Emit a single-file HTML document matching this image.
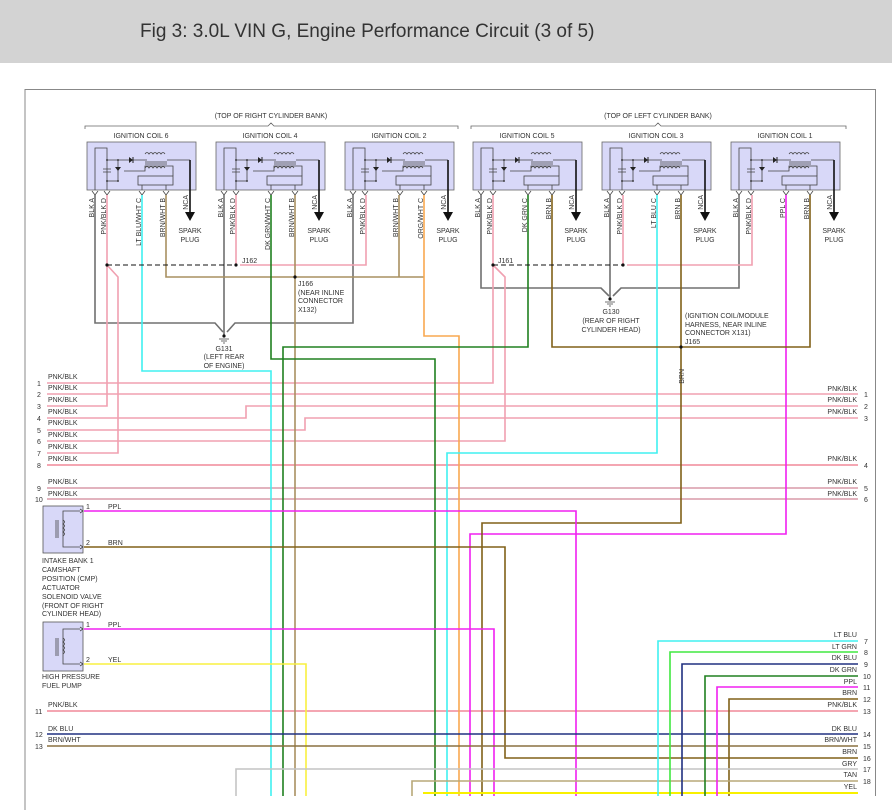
<!DOCTYPE html>
<html><head><meta charset="utf-8"><style>
html,body{margin:0;padding:0;background:#fff;}
svg{display:block;font-family:"Liberation Sans",sans-serif;}
.t{font-size:7px;fill:#333;}
.tc{font-size:7px;fill:#333;text-anchor:middle;}
.tr{font-size:7px;fill:#333;text-anchor:end;}
</style></head><body>
<svg width="892" height="810" viewBox="0 0 892 810" xmlns="http://www.w3.org/2000/svg">
<defs>
<g id="coil">
<rect x="0" y="0" width="109" height="48" fill="#d8d8f8" stroke="#666" stroke-width="0.8"/>
<g fill="none" stroke="#444" stroke-width="0.8">
<path d="M8,48 V6 H20 V48"/>
<path d="M20,18 H60"/>
<path d="M80,18 H103"/>
<path d="M31,18 V39"/>
<path d="M20,39 H31"/>
<path d="M16,27 H24 M16,30 H24"/>
<path d="M37,29 H58 V24 H86 V34"/>
<rect x="51" y="34" width="35" height="9"/>
<path d="M55,43 V48 M79,43 V48"/>
<path d="M58,12 q2,-3 4,0 q2,-3 4,0 q2,-3 4,0 q2,-3 4,0 q2,-3 4,0"/>
<path d="M58,20 h22 M58,22 h22"/>
<path d="M58,26 q2,-3 4,0 q2,-3 4,0 q2,-3 4,0 q2,-3 4,0 q2,-3 4,0"/>
<path d="M5,49 l3,4 l3,-4 M17,49 l3,4 l3,-4 M52,49 l3,4 l3,-4 M76,49 l3,4 l3,-4"/>
</g>
<polygon points="42,15 42,21 46,18" fill="#222"/>
<path d="M46,15 V21" stroke="#222"/>
<polygon points="28,25 34,25 31,29" fill="#222"/>
<circle cx="20" cy="18" r="0.9" fill="#222"/><circle cx="31" cy="18" r="0.9" fill="#222"/>
<circle cx="20" cy="39" r="0.9" fill="#222"/><circle cx="31" cy="39" r="0.9" fill="#222"/>
<path d="M103,18 V74" stroke="#111" stroke-width="1.6"/>
<polygon points="98,70 108,70 103,79" fill="#111"/>
<text class="tc" x="103" y="91">SPARK</text>
<text class="tc" x="103" y="100">PLUG</text>
<text class="tr" transform="translate(101,53) rotate(-90)">NCA</text>
</g>
</defs>
<rect x="0" y="0" width="892" height="63" fill="#d3d3d3"/>
<text x="140" y="37" style="font-size:19px;fill:#333">Fig 3: 3.0L VIN G, Engine Performance Circuit (3 of 5)</text>
<path d="M25,810 V89.5 H875.5 V796" fill="none" stroke="#888" stroke-width="1"/>

<text class="tc" x="271" y="118">(TOP OF RIGHT CYLINDER BANK)</text>
<text class="tc" x="658" y="118">(TOP OF LEFT CYLINDER BANK)</text>
<path d="M85,129 V126 H268 L271,123 L274,126 H458 V129" fill="none" stroke="#666" stroke-width="0.8"/>
<path d="M471,129 V126 H655 L658,123 L661,126 H846 V129" fill="none" stroke="#666" stroke-width="0.8"/>
<text class="tc" x="141" y="138">IGNITION COIL 6</text>
<text class="tc" x="270" y="138">IGNITION COIL 4</text>
<text class="tc" x="399" y="138">IGNITION COIL 2</text>
<text class="tc" x="527" y="138">IGNITION COIL 5</text>
<text class="tc" x="656" y="138">IGNITION COIL 3</text>
<text class="tc" x="785" y="138">IGNITION COIL 1</text>

<use href="#coil" transform="translate(87,142)"/>
<use href="#coil" transform="translate(216,142)"/>
<use href="#coil" transform="translate(345,142)"/>
<use href="#coil" transform="translate(473,142)"/>
<use href="#coil" transform="translate(602,142)"/>
<use href="#coil" transform="translate(731,142)"/>

<g fill="none" stroke-width="1.6">
<g stroke="#707070">
<path d="M95,195 V323 H215 L223,332"/>
<path d="M224,195 V336"/>
<path d="M353,195 V323 H235 L227,332"/>
<path d="M481,195 V288 H601 L609,296"/>
<path d="M610,195 V299"/>
<path d="M739,195 V288 H621 L613,296"/>
</g>
<g stroke="#f0a0b0">
<path d="M107,195 V265 V406 H47"/>
<path d="M107,265 L118,277 V453 H47"/>
<path d="M236,195 V265"/>
<path d="M366,195 V265 H240"/>
<path d="M493,195 V383 H47"/>
<path d="M493,265 L505,277 V441 H47"/>
<path d="M623,195 V265"/>
<path d="M752,195 V265 H627"/>
<path d="M47,394 H858"/>
<path d="M47,418 H246 V406 H858"/>
<path d="M47,430 H305 V418 H858"/>
</g>
<g stroke="#f08898">
<path d="M47,465 H858"/>
<path d="M47,711 H858"/>
</g>
<g stroke="#d89aa8">
<path d="M47,488 H858"/>
<path d="M47,499 H858"/>
</g>
<g stroke="#a89060">
<path d="M166,195 V277 H424"/>
<path d="M399,195 V277"/>
<path d="M295,195 V796"/>
</g>
<path d="M142,195 V371 H271 V796" stroke="#40f0f0"/>
<path d="M271,195 V359 H435 V796" stroke="#208020"/>
<path d="M424,195 V336 H459 V796" stroke="#f8a850"/>
<path d="M528,195 V347 H283 V796" stroke="#208020"/>
<path d="M657,195 V453 H447 V796" stroke="#40f0f0"/>
<path d="M786,195 V534 H470 V796" stroke="#f020f0"/>
<g stroke="#806018">
<path d="M552,195 V347 H810 V195"/>
<path d="M681,195 V523 H482 V796"/>
<path d="M84,547 H505 V758 H858"/>
<path d="M729,796 V699 H858"/>
</g>
<path d="M84,511 H576 V796" stroke="#f020f0"/>
<path d="M84,629 H494 V796" stroke="#f020f0"/>
<path d="M84,664 H306 V796" stroke="#f8f040"/>
<path d="M47,734 H858" stroke="#203080"/>
<path d="M47,746 H858" stroke="#8a7040"/>
<path d="M236,796 V769 H858" stroke="#c4c4c4"/>
<path d="M412,796 V781 H858" stroke="#b8a878"/>
<path d="M423,793 H858" stroke="#f8f000" stroke-width="2"/>
<path d="M658,796 V641 H858" stroke="#40f0f0"/>
<path d="M670,796 V652 H858" stroke="#40e840"/>
<path d="M682,796 V664 H858" stroke="#203080"/>
<path d="M705,796 V676 H858" stroke="#208020"/>
<path d="M717,796 V687 H858" stroke="#f020f0"/>
</g>
<path d="M107,265 H236" stroke="#111" stroke-dasharray="5,3" stroke-width="1"/>
<path d="M493,265 H623" stroke="#111" stroke-dasharray="5,3" stroke-width="1"/>
<g fill="#111">
<circle cx="107" cy="265" r="1.6"/><circle cx="236" cy="265" r="1.6"/>
<circle cx="493" cy="265" r="1.6"/><circle cx="623" cy="265" r="1.6"/>
<circle cx="295" cy="277" r="1.6"/><circle cx="681" cy="347" r="1.6"/>
<circle cx="224" cy="336" r="1.6"/><circle cx="610" cy="299" r="1.6"/>
</g>
<path d="M219,339 H229 M221,341 H227 M223,343 H225 M605,302 H615 M607,304 H613 M609,306 H611" stroke="#444" stroke-width="0.8"/>
<text class="t" x="242" y="263">J162</text>
<text class="t" x="498" y="263">J161</text>
<text class="t" x="298" y="286">J166</text>
<text class="t" x="298" y="295">(NEAR INLINE</text>
<text class="t" x="298" y="303">CONNECTOR</text>
<text class="t" x="298" y="312">X132)</text>
<text class="tc" x="224" y="351">G131</text>
<text class="tc" x="224" y="359">(LEFT REAR</text>
<text class="tc" x="224" y="368">OF ENGINE)</text>
<text class="tc" x="611" y="314">G130</text>
<text class="tc" x="611" y="323">(REAR OF RIGHT</text>
<text class="tc" x="611" y="332">CYLINDER HEAD)</text>
<text class="t" x="685" y="318">(IGNITION COIL/MODULE</text>
<text class="t" x="685" y="327">HARNESS, NEAR INLINE</text>
<text class="t" x="685" y="335">CONNECTOR X131)</text>
<text class="t" x="685" y="344">J165</text>
<text class="tr" transform="translate(684,369) rotate(-90)">BRN</text>

<g>
<text class="tr" transform="translate(94,198) rotate(-90)">BLK  A</text>
<text class="tr" transform="translate(106,198) rotate(-90)">PNK/BLK  D</text>
<text class="tr" transform="translate(141,198) rotate(-90)">LT BLU/WHT  C</text>
<text class="tr" transform="translate(165,198) rotate(-90)">BRN/WHT  B</text>
<text class="tr" transform="translate(223,198) rotate(-90)">BLK  A</text>
<text class="tr" transform="translate(235,198) rotate(-90)">PNK/BLK  D</text>
<text class="tr" transform="translate(270,198) rotate(-90)">DK GRN/WHT  C</text>
<text class="tr" transform="translate(294,198) rotate(-90)">BRN/WHT  B</text>
<text class="tr" transform="translate(352,198) rotate(-90)">BLK  A</text>
<text class="tr" transform="translate(365,198) rotate(-90)">PNK/BLK  D</text>
<text class="tr" transform="translate(398,198) rotate(-90)">BRN/WHT  B</text>
<text class="tr" transform="translate(423,198) rotate(-90)">ORG/WHT  C</text>
<text class="tr" transform="translate(480,198) rotate(-90)">BLK  A</text>
<text class="tr" transform="translate(492,198) rotate(-90)">PNK/BLK  D</text>
<text class="tr" transform="translate(527,198) rotate(-90)">DK GRN  C</text>
<text class="tr" transform="translate(551,198) rotate(-90)">BRN  B</text>
<text class="tr" transform="translate(609,198) rotate(-90)">BLK  A</text>
<text class="tr" transform="translate(622,198) rotate(-90)">PNK/BLK  D</text>
<text class="tr" transform="translate(656,198) rotate(-90)">LT BLU  C</text>
<text class="tr" transform="translate(680,198) rotate(-90)">BRN  B</text>
<text class="tr" transform="translate(738,198) rotate(-90)">BLK  A</text>
<text class="tr" transform="translate(751,198) rotate(-90)">PNK/BLK  D</text>
<text class="tr" transform="translate(785,198) rotate(-90)">PPL  C</text>
<text class="tr" transform="translate(809,198) rotate(-90)">BRN  B</text>
</g>

<g class="t">
<text x="48" y="379">PNK/BLK</text><text x="37" y="386">1</text>
<text x="48" y="390">PNK/BLK</text><text x="37" y="397">2</text>
<text x="48" y="402">PNK/BLK</text><text x="37" y="409">3</text>
<text x="48" y="414">PNK/BLK</text><text x="37" y="421">4</text>
<text x="48" y="425">PNK/BLK</text><text x="37" y="433">5</text>
<text x="48" y="437">PNK/BLK</text><text x="37" y="444">6</text>
<text x="48" y="449">PNK/BLK</text><text x="37" y="456">7</text>
<text x="48" y="461">PNK/BLK</text><text x="37" y="468">8</text>
<text x="48" y="484">PNK/BLK</text><text x="37" y="491">9</text>
<text x="48" y="496">PNK/BLK</text><text x="35" y="502">10</text>
<text x="48" y="707">PNK/BLK</text><text x="35" y="714">11</text>
<text x="48" y="731">DK BLU</text><text x="35" y="737">12</text>
<text x="48" y="742">BRN/WHT</text><text x="35" y="749">13</text>
<text x="86" y="509">1</text><text x="108" y="509">PPL</text>
<text x="86" y="545">2</text><text x="108" y="545">BRN</text>
<text x="86" y="627">1</text><text x="108" y="627">PPL</text>
<text x="86" y="662">2</text><text x="108" y="662">YEL</text>
<text x="42" y="563">INTAKE BANK 1</text>
<text x="42" y="572">CAMSHAFT</text>
<text x="42" y="581">POSITION (CMP)</text>
<text x="42" y="590">ACTUATOR</text>
<text x="42" y="599">SOLENOID VALVE</text>
<text x="42" y="608">(FRONT OF RIGHT</text>
<text x="42" y="616">CYLINDER HEAD)</text>
<text x="42" y="679">HIGH PRESSURE</text>
<text x="42" y="688">FUEL PUMP</text>
</g>
<g fill="#d8d8f8" stroke="#555" stroke-width="0.8">
<rect x="43" y="506" width="40" height="47"/>
<rect x="43" y="622" width="40" height="49"/>
</g>
<g fill="none" stroke="#444" stroke-width="0.8">
<path d="M80,511 H63 V547 H80 M80,509 l3,2 l-3,2 M80,545 l3,2 l-3,2"/>
<path d="M63,520 q3,2 0,4 q3,2 0,4 q3,2 0,4 q3,2 0,4 M58,520 V538 M56,520 V538"/>
<path d="M80,629 H63 V664 H80 M80,627 l3,2 l-3,2 M80,662 l3,2 l-3,2"/>
<path d="M63,638 q3,2 0,4 q3,2 0,4 q3,2 0,4 q3,2 0,4 M58,638 V656 M56,638 V656"/>
</g>
<g>
<text class="tr" x="857" y="391">PNK/BLK</text>
<text class="tr" x="857" y="402">PNK/BLK</text>
<text class="tr" x="857" y="414">PNK/BLK</text>
<text class="tr" x="857" y="461">PNK/BLK</text>
<text class="tr" x="857" y="484">PNK/BLK</text>
<text class="tr" x="857" y="496">PNK/BLK</text>
<text class="tr" x="857" y="637">LT BLU</text>
<text class="tr" x="857" y="649">LT GRN</text>
<text class="tr" x="857" y="660">DK BLU</text>
<text class="tr" x="857" y="672">DK GRN</text>
<text class="tr" x="857" y="684">PPL</text>
<text class="tr" x="857" y="695">BRN</text>
<text class="tr" x="857" y="707">PNK/BLK</text>
<text class="tr" x="857" y="731">DK BLU</text>
<text class="tr" x="857" y="742">BRN/WHT</text>
<text class="tr" x="857" y="754">BRN</text>
<text class="tr" x="857" y="766">GRY</text>
<text class="tr" x="857" y="777">TAN</text>
<text class="tr" x="857" y="789">YEL</text>
</g>
<g class="t">
<text x="864" y="397">1</text><text x="864" y="409">2</text><text x="864" y="421">3</text>
<text x="864" y="468">4</text><text x="864" y="491">5</text><text x="864" y="502">6</text>
<text x="864" y="644">7</text><text x="864" y="655">8</text><text x="864" y="667">9</text>
<text x="863" y="679">10</text><text x="863" y="690">11</text><text x="863" y="702">12</text>
<text x="863" y="714">13</text><text x="863" y="737">14</text><text x="863" y="749">15</text>
<text x="863" y="761">16</text><text x="863" y="772">17</text><text x="863" y="784">18</text>
</g>
</svg>
</body></html>
